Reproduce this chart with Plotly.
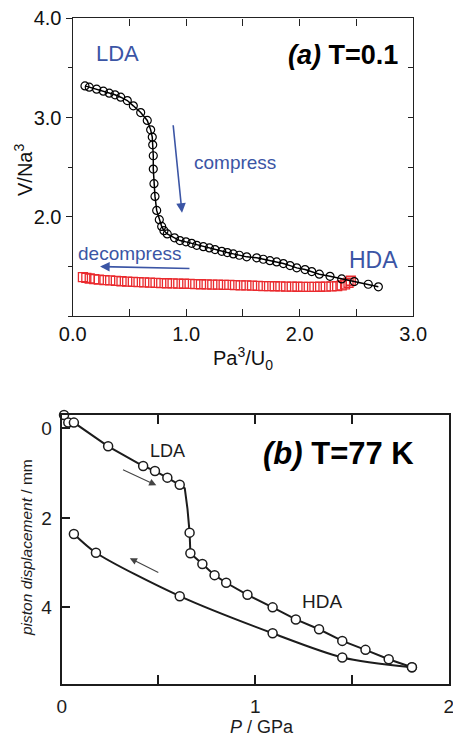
import plotly.graph_objects as go

# ---------------- Panel (a) data ----------------
a_comp_x = [0.108, 0.146, 0.211, 0.270, 0.322, 0.373, 0.423, 0.481, 0.534, 0.599,
            0.657, 0.687, 0.701, 0.705, 0.710, 0.710, 0.716, 0.725, 0.740, 0.763,
            0.784, 0.804, 0.833, 0.897, 0.945, 0.998, 1.048, 1.093, 1.151, 1.204,
            1.254, 1.313, 1.362, 1.415, 1.468, 1.533, 1.621, 1.679, 1.738, 1.797,
            1.856, 1.915, 1.974, 2.047, 2.106, 2.173, 2.267, 2.370, 2.481, 2.604,
            2.693]
a_comp_y = [3.319, 3.306, 3.286, 3.266, 3.245, 3.229, 3.205, 3.171, 3.118, 3.050,
            2.971, 2.876, 2.803, 2.725, 2.615, 2.481, 2.333, 2.205, 2.064, 1.971,
            1.903, 1.860, 1.827, 1.788, 1.760, 1.747, 1.732, 1.712, 1.699, 1.686,
            1.669, 1.652, 1.639, 1.626, 1.612, 1.596, 1.586, 1.572, 1.558, 1.545,
            1.528, 1.508, 1.485, 1.468, 1.448, 1.421, 1.400, 1.374, 1.347, 1.320,
            1.294]

a_dec_x = [2.45, 2.43, 2.40, 2.37, 2.33, 2.28, 2.23, 2.18, 2.13, 2.08, 2.03, 1.98,
           1.93, 1.88, 1.83, 1.78, 1.73, 1.68, 1.63, 1.58, 1.53, 1.48, 1.43, 1.38,
           1.33, 1.28, 1.23, 1.18, 1.13, 1.08, 1.03, 0.98, 0.93, 0.88, 0.83, 0.78,
           0.73, 0.68, 0.63, 0.58, 0.53, 0.48, 0.43, 0.38, 0.33, 0.28, 0.23, 0.19,
           0.15, 0.12, 0.09]
a_dec_y = [1.355, 1.335, 1.318, 1.308, 1.302, 1.298, 1.296, 1.295, 1.294, 1.294,
           1.294, 1.295, 1.296, 1.297, 1.298, 1.300, 1.301, 1.302, 1.304, 1.306,
           1.308, 1.309, 1.311, 1.313, 1.314, 1.316, 1.317, 1.318, 1.320, 1.322,
           1.323, 1.325, 1.327, 1.328, 1.330, 1.332, 1.334, 1.336, 1.338, 1.341,
           1.344, 1.347, 1.350, 1.354, 1.358, 1.362, 1.367, 1.372, 1.378, 1.384,
           1.391]

a_xticks = [0.0, 1.0, 2.0, 3.0]
a_xticklabels = ["0.0", "1.0", "2.0", "3.0"]
a_yticks = [2.0, 3.0, 4.0]
a_yticklabels = ["2.0", "3.0", "4.0"]

# ---------------- Panel (b) data ----------------
b_comp_x = [0.012, 0.034, 0.063, 0.240, 0.421, 0.482, 0.546, 0.610, 0.661, 0.665,
            0.727, 0.790, 0.850, 0.960, 1.090, 1.210, 1.330, 1.450, 1.570, 1.690, 1.810]
b_comp_y = [-0.30, -0.13, -0.13, 0.40, 0.84, 0.95, 1.10, 1.26, 2.33, 2.79,
            3.03, 3.28, 3.45, 3.72, 4.00, 4.27, 4.49, 4.75, 4.95, 5.16, 5.34]

b_comp_curve_x = [0.034, 0.063, 0.240, 0.421, 0.482, 0.546, 0.610, 0.636, 0.650, 0.661,
                  0.665, 0.727, 0.790, 0.850, 0.960, 1.090, 1.210, 1.330, 1.450, 1.570,
                  1.690, 1.810]
b_comp_curve_y = [-0.13, -0.13, 0.40, 0.84, 0.95, 1.10, 1.26, 1.34, 1.80, 2.33,
                  2.79, 3.03, 3.28, 3.45, 3.72, 4.00, 4.27, 4.49, 4.75, 4.95,
                  5.16, 5.34]

b_dec_x = [0.063, 0.177, 0.610, 1.090, 1.450, 1.810]
b_dec_y = [2.36, 2.78, 3.75, 4.58, 5.12, 5.34]

b_xticks = [0, 1, 2]
b_yticks = [0, 2, 4]

FONT = "Liberation Sans, Arial, Helvetica, sans-serif"
BLUE = "#3b55a5"
RED = "#ea2a2e"
DARK = "#1c1c1c"

fig = go.Figure()

# Panel (a) traces
fig.add_trace(go.Scatter(
    x=a_dec_x, y=a_dec_y, mode="markers", xaxis="x", yaxis="y",
    marker=dict(symbol="square-open", size=9, color=RED, line=dict(width=1.3, color=RED)),
    showlegend=False, cliponaxis=False))
fig.add_trace(go.Scatter(
    x=a_comp_x, y=a_comp_y, mode="lines+markers", xaxis="x", yaxis="y",
    line=dict(color="black", width=1.5),
    marker=dict(symbol="circle-open", size=8, color="black", line=dict(width=1.2, color="black")),
    showlegend=False, cliponaxis=False))
# helper trace for right-side y ticks of panel (a)
fig.add_trace(go.Scatter(x=[None], y=[None], xaxis="x", yaxis="y3", showlegend=False))

# Panel (b) traces
fig.add_trace(go.Scatter(
    x=b_comp_curve_x, y=b_comp_curve_y, mode="lines", xaxis="x2", yaxis="y2",
    line=dict(color=DARK, width=2), showlegend=False, hoverinfo="skip"))
fig.add_trace(go.Scatter(
    x=b_dec_x, y=b_dec_y, mode="lines", xaxis="x2", yaxis="y2",
    line=dict(color=DARK, width=2, shape="spline", smoothing=0.8), showlegend=False))
fig.add_trace(go.Scatter(
    x=b_comp_x, y=b_comp_y, mode="markers", xaxis="x2", yaxis="y2",
    marker=dict(symbol="circle", size=9, color="white", line=dict(width=1.5, color=DARK)),
    showlegend=False, cliponaxis=False))
fig.add_trace(go.Scatter(
    x=b_dec_x, y=b_dec_y, mode="markers", xaxis="x2", yaxis="y2",
    marker=dict(symbol="circle", size=9, color="white", line=dict(width=1.5, color=DARK)),
    showlegend=False, cliponaxis=False))

H = 738.0
W = 453.0

def fx(px):
    return px / W

def fy(py):
    return 1 - py / H

layout = dict(
    width=453, height=738,
    margin=dict(l=0, r=0, t=0, b=0, autoexpand=False),
    paper_bgcolor="white", plot_bgcolor="white",
    font=dict(family=FONT, color="black"),
    showlegend=False,
    xaxis=dict(
        domain=[fx(72.7), fx(413.2)], anchor="y", range=[0, 3], automargin=False,
        tickvals=a_xticks, ticktext=a_xticklabels, ticks="inside", ticklen=7,
        tickwidth=1.2, tickcolor="#222", showline=True, linecolor="#222", linewidth=1.4,
        mirror="allticks", showgrid=False, zeroline=False, ticklabeloverflow="allow",
        tickfont=dict(size=20, color="#111"),
        minor=dict(dtick=0.5, tick0=0, ticks="inside", ticklen=5, tickwidth=1.1, tickcolor="#222"),
    ),
    yaxis=dict(
        domain=[fy(316), fy(18.3)], anchor="x", range=[1.0, 4.0], automargin=False,
        tickvals=a_yticks, ticktext=a_yticklabels, ticks="outside", ticklen=6,
        tickwidth=1.2, tickcolor="#222", showline=True, linecolor="#222", linewidth=1.4,
        mirror=True, showgrid=False, zeroline=False, ticklabeloverflow="allow",
        tickfont=dict(size=20, color="#111"),
        minor=dict(dtick=0.5, tick0=0, ticks="outside", ticklen=4, tickwidth=1.1, tickcolor="#222"),
    ),
    yaxis3=dict(
        overlaying="y", anchor="x", side="right", range=[1.0, 4.0], automargin=False,
        tickvals=[1.5, 2.0, 2.5, 3.0, 3.5], ticks="inside", ticklen=5, tickwidth=1.2,
        tickcolor="#222", showticklabels=False, showline=False, showgrid=False, zeroline=False,
    ),
    xaxis2=dict(
        domain=[fx(61.7), fx(448.7)], anchor="y2", range=[0, 2], automargin=False,
        tickvals=[0, 0.5, 1, 1.5, 2], ticktext=["0", "", "1", "", "2"], ticks="inside", ticklen=9,
        tickwidth=2, tickcolor=DARK, showline=True, linecolor=DARK, linewidth=2,
        mirror="allticks", showgrid=False, zeroline=False, ticklabeloverflow="allow",
        tickfont=dict(size=19, color=DARK), ticklabelstandoff=4,
    ),
    yaxis2=dict(
        domain=[fy(684.3), fy(415)], anchor="x2", range=[5.72, -0.30], automargin=False,
        tickvals=b_yticks, ticktext=[str(v) for v in b_yticks], ticks="inside", ticklen=8,
        tickwidth=2, tickcolor=DARK, showline=True, linecolor=DARK, linewidth=2,
        mirror=True, showgrid=False, zeroline=False, ticklabeloverflow="allow",
        tickfont=dict(size=19, color=DARK), ticklabelstandoff=4,
    ),
)

annotations = [
    # panel (a) labels
    dict(x=0.395, y=3.65, xref="x", yref="y", text="LDA", showarrow=False,
         font=dict(size=22, color=BLUE)),
    dict(x=2.646, y=1.56, xref="x", yref="y", text="HDA", showarrow=False,
         font=dict(size=23, color=BLUE)),
    dict(x=1.426, y=2.544, xref="x", yref="y", text="compress", showarrow=False,
         font=dict(size=19, color=BLUE)),
    dict(x=0.505, y=1.625, xref="x", yref="y", text="decompress", showarrow=False,
         font=dict(size=19, color=BLUE)),
    dict(x=2.885, y=3.63, xref="x", yref="y", xanchor="right",
         text="<b><i>(a)</i> T=0.1</b>", showarrow=False, font=dict(size=27, color="black")),
    # panel (a) arrows
    dict(x=0.963, y=2.041, ax=0.884, ay=2.937, xref="x", yref="y", axref="x", ayref="y",
         text="", showarrow=True, arrowhead=2, arrowsize=1.2, arrowwidth=1.6, arrowcolor=BLUE),
    dict(x=0.241, y=1.498, ax=1.042, ay=1.478, xref="x", yref="y", axref="x", ayref="y",
         text="", showarrow=True, arrowhead=2, arrowsize=1.2, arrowwidth=1.6, arrowcolor=BLUE),
    # panel (a) axis titles
    dict(x=fx(243), y=fy(358), xref="paper", yref="paper", xanchor="center", yanchor="middle",
         text="Pa<sup>3</sup>/U<sub>0</sub>", showarrow=False, font=dict(size=20, color="#111")),
    dict(x=fx(23), y=fy(170), xref="paper", yref="paper", xanchor="center", yanchor="middle",
         text="V/Na<sup>3</sup>", textangle=-90, showarrow=False, font=dict(size=20, color="#111")),
    # panel (b) labels
    dict(x=0.548, y=0.50, xref="x2", yref="y2", text="LDA", showarrow=False,
         font=dict(size=18, color=DARK)),
    dict(x=1.347, y=3.87, xref="x2", yref="y2", text="HDA", showarrow=False,
         font=dict(size=19, color=DARK)),
    dict(x=1.43, y=0.55, xref="x2", yref="y2", text="<b><i>(b)</i> T=77 K</b>", showarrow=False,
         font=dict(size=31, color="black")),
    # panel (b) arrows
    dict(x=0.489, y=1.27, ax=0.309, ay=0.91, xref="x2", yref="y2", axref="x2", ayref="y2",
         text="", showarrow=True, arrowhead=2, arrowsize=1.3, arrowwidth=1.1, arrowcolor="#444"),
    dict(x=0.352, y=2.90, ax=0.507, ay=3.24, xref="x2", yref="y2", axref="x2", ayref="y2",
         text="", showarrow=True, arrowhead=2, arrowsize=1.3, arrowwidth=1.1, arrowcolor="#444"),
    # panel (b) axis titles
    dict(x=fx(262), y=0, xref="paper", yref="paper", xanchor="center", yanchor="bottom",
         text="<i>P</i> / GPa", showarrow=False, font=dict(size=18, color=DARK), borderpad=0),
    dict(x=fx(26), y=fy(548), xref="paper", yref="paper", xanchor="center", yanchor="middle",
         text="<i>piston displacement</i> / mm", textangle=-90,
         showarrow=False, font=dict(size=15.5, color=DARK)),
]
layout["annotations"] = annotations

fig.update_layout(**layout)
fig.write_html(
    "out.html",
    config={"displayModeBar": False},
    post_script="document.documentElement.style.margin='0';document.body.style.margin='0';"
                "document.body.style.overflow='hidden';",
)
